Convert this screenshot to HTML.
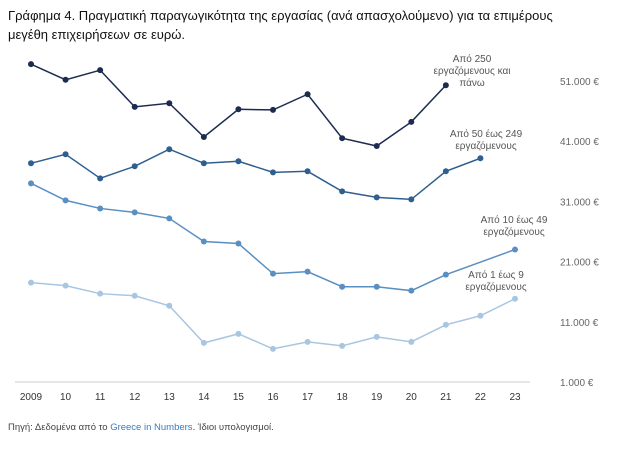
<!DOCTYPE html>
<html><head><meta charset="utf-8"><style>
body{margin:0;background:#fff;width:624px;height:454px;overflow:hidden;font-family:"Liberation Sans","DejaVu Sans",sans-serif}
</style></head><body>
<svg width="624" height="454" xmlns="http://www.w3.org/2000/svg">
<text x="8" y="20" font-size="13" fill="#111">Γράφημα 4. Πραγματική παραγωγικότητα της εργασίας (ανά απασχολούμενο) για τα επιμέρους</text>
<text x="8" y="39" font-size="13" fill="#111">μεγέθη επιχειρήσεων σε ευρώ.</text>
<line x1="15" y1="382" x2="530" y2="382" stroke="#ccc"/>
<g id="yt"></g><g id="xt"></g><g id="series"></g>
<text x="8" y="430" font-size="9.5" fill="#444">Πηγή: Δεδομένα από το <tspan fill="#3a7bbf">Greece in Numbers</tspan>. Ίδιοι υπολογισμοί.</text>
</svg>
<script>
const years=["2009","10","11","12","13","14","15","16","17","18","19","20","21","22","23"];
const yTicks=[1000,11000,21000,31000,41000,51000];
const yTickLabels=["1.000 €","11.000 €","21.000 €","31.000 €","41.000 €","51.000 €"];
const s250=[53800,51200,52800,46700,47300,41700,46300,46200,48800,41500,40200,44200,50300,null,null];
const s50=[37330,38830,34830,36830,39670,37330,37670,35830,36000,32670,31670,31330,36000,38170,null];
const s10=[34000,31170,29830,29170,28170,24330,24000,19000,19330,16830,16830,16170,18830,null,23000];
const s1=[17500,17000,15670,15330,13670,7500,9000,6500,7670,7000,8500,7670,10500,12000,14830];
const labels=[["Από 250","εργαζόμενους και","πάνω"],["Από 50 έως 249","εργαζόμενους"],["Από 10 έως 49","εργαζόμενους"],["Από 1 έως 9","εργαζόμενους"]];
const NS="http://www.w3.org/2000/svg";
const X=i=>31+i*(515-31)/(years.length-1);
const Y=v=>382-(v-1000)/10000*60.2;
function mk(t,a,p){const e=document.createElementNS(NS,t);for(const k in a)e.setAttribute(k,a[k]);p.appendChild(e);return e;}
const yt=document.getElementById('yt');
yTicks.forEach((v,i)=>{const t=mk('text',{x:560,y:Y(v)+4,'font-size':10,fill:'#666'},yt);t.textContent=yTickLabels[i];

});
const xt=document.getElementById('xt');
years.forEach((y,i)=>{const t=mk('text',{x:X(i),y:400,'font-size':10,fill:'#333','text-anchor':'middle'},xt);t.textContent=y;

});
const sg=document.getElementById('series');
const all=[[s250,'#1c2b50','series-250-plus',[472,62]],[s50,'#2f5f8f','series-50-249',[486,137]],[s10,'#5a8fc2','series-10-49',[514,223]],[s1,'#a8c6e2','series-1-9',[496,278]]];
all.forEach(([d,c,n,lp],k)=>{
 const g=mk('g',{},sg);
 
 
 let pts=[];d.forEach((v,i)=>{if(v!=null)pts.push(X(i)+','+Y(v));});
 mk('polyline',{points:pts.join(' '),fill:'none',stroke:c,'stroke-width':1.5},g);
 d.forEach((v,i)=>{if(v==null)return;const p=mk('circle',{cx:X(i),cy:Y(v),r:3,fill:c},g);
  
  });
 labels[k].forEach((l,j)=>{const t=mk('text',{x:lp[0],y:lp[1]+j*12,'font-size':10,fill:'#555','text-anchor':'middle'},g);t.textContent=l;
  
  });
});
</script>
</body></html>
